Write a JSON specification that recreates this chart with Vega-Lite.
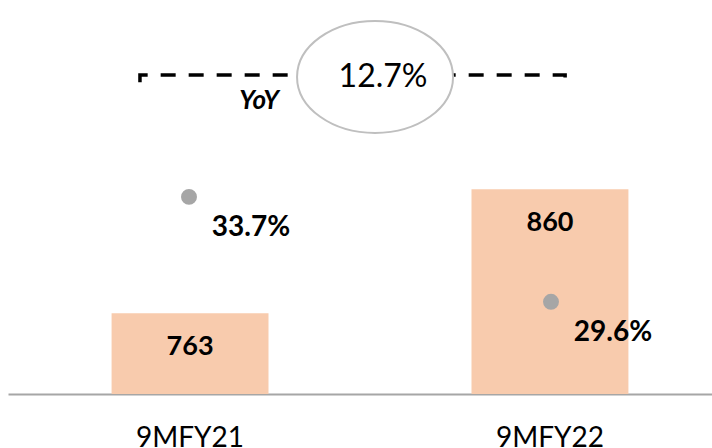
{
  "$schema": "https://vega.github.io/schema/vega-lite/v6.json",
  "width": 724,
  "height": 384,
  "autosize": {"type": "none"},
  "padding": {"left": 8, "top": 10, "right": 0, "bottom": 54},
  "background": "white",
  "config": {"view": {"stroke": null}, "font": "Lato"},
  "datasets": {
    "main": [
      {"period": "9MFY21", "revenue": 763, "pct": 33.7, "pctLabel": "33.7%"},
      {"period": "9MFY22", "revenue": 860, "pct": 29.6, "pctLabel": "29.6%"}
    ],
    "bracket": [
      {"pos": -0.139, "v": 943.5, "ord": 0},
      {"pos": -0.139, "v": 949.2, "ord": 1},
      {"pos": 1.042, "v": 949.2, "ord": 2},
      {"pos": 1.042, "v": 943.5, "ord": 3}
    ],
    "yoy": [
      {"pos": 0.514, "v": 947.7, "label": "12.7%", "tag": "YoY", "tagPos": 0.192, "tagV": 928.9}
    ]
  },
  "layer": [
    {
      "data": {"name": "main"},
      "encoding": {
        "x": {
          "field": "period", "type": "nominal", "sort": null,
          "scale": {"paddingInner": 0.564, "paddingOuter": 0.2878},
          "axis": {"title": null, "ticks": false, "labelAngle": 0, "labelFontSize": 28, "labelColor": "#000000", "labelPadding": 30, "labelFont": "Lato", "domainColor": "#a6a6a6", "domainWidth": 2}
        },
        "y": {"field": "revenue", "type": "quantitative", "scale": {"domain": [700, 1000], "zero": false, "nice": false}, "axis": null}
      },
      "layer": [
        {"mark": {"type": "bar", "color": "#f8cbad"}, "encoding": {"y2": {"datum": 700}}},
        {"mark": {"type": "text", "fontWeight": "bold", "fontSize": 27, "baseline": "middle", "dy": 34, "color": "#000000"},
         "encoding": {"text": {"field": "revenue", "type": "quantitative"}}}
      ]
    },
    {
      "data": {"name": "main"},
      "encoding": {
        "x": {"field": "period", "type": "nominal", "sort": null, "scale": {"paddingInner": 0.564, "paddingOuter": 0.2878}, "axis": null},
        "y": {"field": "pct", "type": "quantitative", "scale": {"domain": [26, 41], "zero": false, "nice": false}, "axis": null}
      },
      "layer": [
        {"mark": {"type": "point", "filled": true, "size": 254, "color": "#a6a6a6", "opacity": 1}},
        {"mark": {"type": "text", "fontWeight": "bold", "fontSize": 28, "align": "center", "baseline": "middle", "dx": 62, "dy": 31, "color": "#000000"},
         "encoding": {"text": {"field": "pctLabel", "type": "nominal"}}}
      ]
    },
    {
      "layer": [
        {
          "data": {"name": "bracket"},
          "mark": {"type": "line", "color": "#000000", "strokeWidth": 3.5, "strokeDash": [15, 13], "strokeCap": "butt"},
          "encoding": {
            "x": {"field": "pos", "type": "quantitative", "scale": {"domain": [-0.50556, 1.50556], "nice": false, "zero": false}, "axis": null},
            "y": {"field": "v", "type": "quantitative", "scale": {"domain": [700, 1000], "zero": false, "nice": false}, "axis": null},
            "order": {"field": "ord", "type": "quantitative"}
          }
        },
        {
          "data": {"name": "yoy"},
          "encoding": {
            "x": {"field": "pos", "type": "quantitative"},
            "y": {"field": "v", "type": "quantitative"}
          },
          "layer": [
            {"mark": {"type": "point", "shape": "M -1 0 A 1 0.718 0 1 0 1 0 A 1 0.718 0 1 0 -1 0 Z", "size": 24336, "filled": false, "fill": "#ffffff", "fillOpacity": 1, "stroke": "#bfbfbf", "strokeWidth": 2, "opacity": 1}},
            {"mark": {"type": "text", "fontSize": 32, "align": "center", "baseline": "middle", "dx": 8, "color": "#000000"},
             "encoding": {"text": {"field": "label", "type": "nominal"}}},
            {"mark": {"type": "text", "fontSize": 26, "fontWeight": "bold", "fontStyle": "italic", "align": "center", "baseline": "middle", "color": "#000000"},
             "encoding": {"x": {"field": "tagPos", "type": "quantitative"}, "y": {"field": "tagV", "type": "quantitative"}, "text": {"field": "tag", "type": "nominal"}}}
          ]
        }
      ]
    }
  ],
  "resolve": {"scale": {"x": "independent", "y": "independent"}}
}
